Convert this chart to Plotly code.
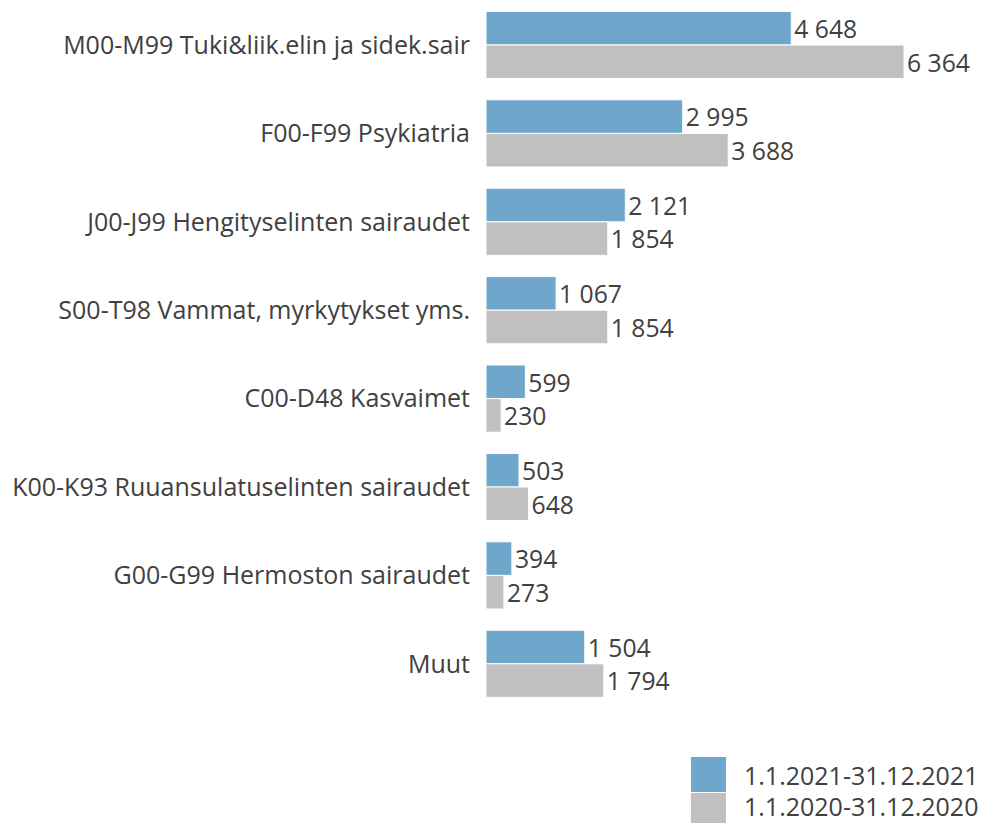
import plotly.graph_objects as go

categories = [
    "M00-M99 Tuki&liik.elin ja sidek.sair",
    "F00-F99 Psykiatria",
    "J00-J99 Hengityselinten sairaudet",
    "S00-T98 Vammat, myrkytykset yms.",
    "C00-D48 Kasvaimet",
    "K00-K93 Ruuansulatuselinten sairaudet",
    "G00-G99 Hermoston sairaudet",
    "Muut",
]
values_2021 = [4648, 2995, 2121, 1067, 599, 503, 394, 1504]
values_2020 = [6364, 3688, 1854, 1854, 230, 648, 273, 1794]
series_names = ["1.1.2021-31.12.2021", "1.1.2020-31.12.2020"]

BLUE = "#6fa6cb"
GRAY = "#c0c0c0"
TEXT = "#404040"
FONT = "Open Sans"
FS = 25


def fmt(v):
    return f"{v:,}".replace(",", " ")


fig = go.Figure()
for name, vals, col in [(series_names[0], values_2021, BLUE), (series_names[1], values_2020, GRAY)]:
    fig.add_trace(go.Bar(
        y=categories, x=vals, name=name, orientation="h",
        marker=dict(color=col, line=dict(color="white", width=1)),
        text=[fmt(v) for v in vals], textposition="outside", cliponaxis=False,
        textfont=dict(size=FS, color=TEXT, family=FONT),
        showlegend=False,
    ))

# the page body has an 8px margin; page coordinates are converted to figure coordinates
OFF = 8
W, H = 987 - OFF, 823 - OFF
L, R, T = 486 - OFF, 11, 0
plot_bottom_page = 708
B = H - (plot_bottom_page - OFF)
pw, ph = W - L - R, H - T - B
pitch = (plot_bottom_page - 0.8) / 8.0
y_top = -0.5 + (OFF - 0.8) / pitch


def px(x):
    return (x - OFF - L) / pw


def py(y):
    return (H - B - (y - OFF)) / ph


legend_items = [(series_names[0], BLUE, 757, 792, 775), (series_names[1], GRAY, 793, 830, 806)]
for name, col, y0, y1, ty in legend_items:
    fig.add_shape(type="rect", xref="paper", yref="paper",
                  x0=px(691), x1=px(726), y0=py(y0), y1=py(y1),
                  fillcolor=col, line=dict(width=0))
    fig.add_annotation(xref="paper", yref="paper", x=px(743), y=py(ty),
                       text=name, showarrow=False, xanchor="left", yanchor="middle",
                       borderpad=0,
                       font=dict(size=FS, color=TEXT, family=FONT))

fig.update_layout(
    width=W, height=H,
    margin=dict(l=L, r=R, t=T, b=B),
    barmode="group", bargap=0.24, bargroupgap=0.0,
    plot_bgcolor="white", paper_bgcolor="white",
    font=dict(family=FONT, size=FS, color=TEXT),
    xaxis=dict(range=[0, 6364 * pw / 418], visible=False, showgrid=False, zeroline=False),
    yaxis=dict(range=[7.5, y_top], showgrid=False, zeroline=False, showline=False,
               ticks="", ticklabelstandoff=15, tickfont=dict(size=FS, color=TEXT, family=FONT)),
)

fig.write_html("out.html")
